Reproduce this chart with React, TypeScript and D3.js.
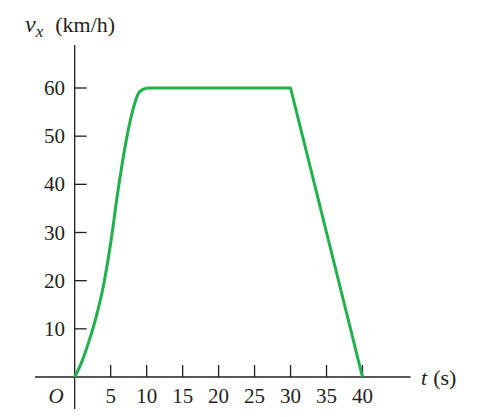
import * as d3 from "d3";
import { useEffect, useRef } from "react";

// velocity vs time: smooth speed-up, cruise, linear braking
const riseT = [0, 1, 2, 3, 4, 5, 6, 7, 8, 9, 10];
const riseV = [0, 3.2, 7.5, 12.6, 19, 27.8, 38.5, 47.8, 55, 59.2, 60];
const restT = [10, 30, 40];
const restV = [60, 60, 0];
const xTicks = [5, 10, 15, 20, 25, 30, 35, 40];
const yTicks = [10, 20, 30, 40, 50, 60];

const W = 482;
const H = 417;
const FONT = "'Liberation Serif', 'DejaVu Serif', serif";
const INK = "#231f20";

export default function App() {
  const ref = useRef<SVGSVGElement>(null);

  useEffect(() => {
    if (!ref.current) return;
    const svg = d3.select(ref.current);
    svg.selectAll("*").remove();

    const x = d3.scaleLinear().domain([0, 40]).range([74.7, 362.5]);
    const y = d3.scaleLinear().domain([0, 60]).range([377, 88]);
    const x0 = x(0);
    const y0 = y(0);

    // axes
    svg.append("line")
      .attr("x1", 35).attr("x2", 410.5).attr("y1", y0).attr("y2", y0)
      .attr("stroke", INK).attr("stroke-width", 1.3);
    svg.append("line")
      .attr("x1", x0).attr("x2", x0).attr("y1", 45).attr("y2", 409)
      .attr("stroke", INK).attr("stroke-width", 1.3);

    // x ticks (pointing up) + labels
    xTicks.forEach((t) => {
      svg.append("line")
        .attr("x1", x(t)).attr("x2", x(t)).attr("y1", y0).attr("y2", y0 - 12)
        .attr("stroke", INK).attr("stroke-width", 1.3);
      svg.append("text")
        .attr("x", x(t)).attr("y", 403)
        .attr("text-anchor", "middle").attr("font-family", FONT)
        .attr("font-size", 21).attr("fill", INK)
        .text(t);
    });

    // y ticks (pointing right) + labels
    yTicks.forEach((v) => {
      svg.append("line")
        .attr("x1", x0).attr("x2", x0 + 12).attr("y1", y(v)).attr("y2", y(v))
        .attr("stroke", INK).attr("stroke-width", 1.3);
      svg.append("text")
        .attr("x", 65).attr("y", y(v) + 7)
        .attr("text-anchor", "end").attr("font-family", FONT)
        .attr("font-size", 21).attr("fill", INK)
        .text(v);
    });

    // origin
    svg.append("text")
      .attr("x", 56).attr("y", 403)
      .attr("text-anchor", "middle").attr("font-family", FONT)
      .attr("font-style", "italic").attr("font-size", 21).attr("fill", INK)
      .text("O");

    // axis titles
    const yt = svg.append("text")
      .attr("x", 25).attr("y", 32)
      .attr("font-family", FONT).attr("font-size", 22).attr("fill", INK);
    yt.append("tspan").attr("font-style", "italic").attr("font-size", 24).text("v");
    yt.append("tspan").attr("font-style", "italic").attr("font-size", 17).attr("dy", 5).text("x");
    yt.append("tspan").attr("dy", -5).attr("dx", 12).text("(km/h)");

    const xt = svg.append("text")
      .attr("x", 421).attr("y", 385)
      .attr("font-family", FONT).attr("font-size", 22).attr("fill", INK);
    xt.append("tspan").attr("font-style", "italic").text("t");
    xt.append("tspan").attr("dx", 6).text("(s)");

    // curve
    const green = "#1fb24a";
    const rise = d3.line<number>()
      .x((_, i) => x(riseT[i]))
      .y((v) => y(v))
      .curve(d3.curveMonotoneX);
    svg.append("path")
      .attr("d", rise(riseV))
      .attr("fill", "none").attr("stroke", green)
      .attr("stroke-width", 3).attr("stroke-linejoin", "round");

    const rest = d3.line<number>()
      .x((_, i) => x(restT[i]))
      .y((v) => y(v));
    svg.append("path")
      .attr("d", rest(restV))
      .attr("fill", "none").attr("stroke", green)
      .attr("stroke-width", 3).attr("stroke-linejoin", "round");
  }, []);

  return (
    <svg
      ref={ref}
      width={W}
      height={H}
      style={{ position: "absolute", left: 0, top: 0, background: "#fff" }}
    />
  );
}
